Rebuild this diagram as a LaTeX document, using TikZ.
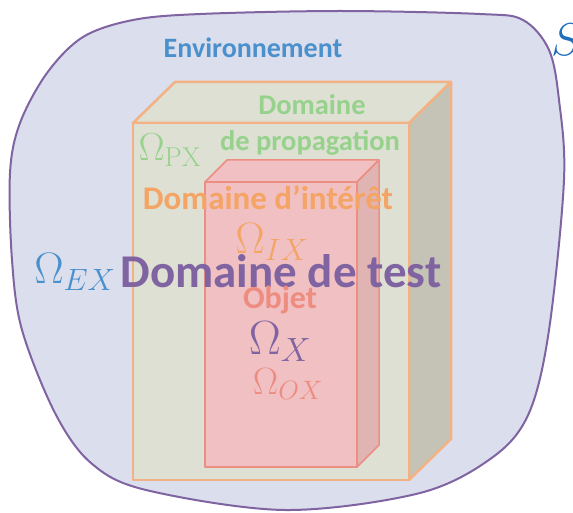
\documentclass[tikz,border=0pt]{standalone}
\usepackage{fix-cm}
\usepackage{fontspec}
\usepackage{tikz}
\usetikzlibrary{calc}
\newfontfamily\carlito{Carlito}
\definecolor{envfill}{RGB}{218,222,237}
\definecolor{envline}{RGB}{128,100,162}
\definecolor{boxfront}{RGB}{221,224,211}
\definecolor{boxside}{RGB}{196,195,182}
\definecolor{boxline}{RGB}{244,177,131}
\definecolor{objfront}{RGB}{240,192,194}
\definecolor{objside}{RGB}{225,180,180}
\definecolor{objline}{RGB}{236,142,130}
\definecolor{envblue}{RGB}{74,144,204}
\definecolor{propgreen}{RGB}{150,210,140}
\definecolor{intorange}{RGB}{244,164,100}
\definecolor{testpurple}{RGB}{128,100,162}
\definecolor{objsalmon}{RGB}{238,140,128}
\definecolor{setblue}{RGB}{30,110,190}
\tikzset{
    envshape/.style={fill=envfill, draw=envline, line width=2pt},
    boxface/.style={draw=boxline, line width=2.5pt, line join=round},
    objface/.style={draw=objline, line width=1.5pt, line join=round},
    word/.style={font=\carlito\bfseries\fontsize{#1}{#1}\selectfont, inner sep=0pt},
    sym/.style={font=\fontsize{#1}{#1}\selectfont, inner sep=0pt},
}

\begin{document}
\begin{tikzpicture}[x=1pt, y=-1pt]
\useasboundingbox (0,0) rectangle (573,513);

% Environment
\draw[envshape] plot[smooth cycle, tension=0.55] coordinates {
    (200,14) (133,20) (83,37) (47,73) (20,123) (10,173) (12,260) (22,330)
    (55,413) (91,463) (146,490) (285,510) (420,493) (493,457) (529,413)
    (549,330) (564,180) (559,100) (549,50) (523,20) (480,14) (340,11)};

% Propagation domain (box)
\coordinate (pf-tl) at (133,123);
\coordinate (pf-tr) at (409,123);
\coordinate (pf-br) at (409,480);
\coordinate (pb-tl) at ($(pf-tl)+(42,-41)$);
\coordinate (pb-tr) at ($(pf-tr)+(42,-41)$);
\coordinate (pb-br) at ($(pf-br)+(42,-41)$);
\draw[boxface, fill=boxfront] (pf-tl) -- (pb-tl) -- (pb-tr) -- (pf-tr) -- cycle;
\draw[boxface, fill=boxside] (pf-tr) -- (pb-tr) -- (pb-br) -- (pf-br) -- cycle;
\draw[boxface, fill=boxfront] (pf-tl) rectangle (pf-br);

% Object (box)
\coordinate (of-tl) at (205,182);
\coordinate (of-tr) at (357,182);
\coordinate (of-br) at (357,467);
\coordinate (ob-tl) at ($(of-tl)+(22,-22)$);
\coordinate (ob-tr) at ($(of-tr)+(22,-22)$);
\coordinate (ob-br) at ($(of-br)+(22,-22)$);
\draw[objface, fill=objfront] (of-tl) -- (ob-tl) -- (ob-tr) -- (of-tr) -- cycle;
\draw[objface, fill=objside] (of-tr) -- (ob-tr) -- (ob-br) -- (of-br) -- cycle;
\draw[objface, fill=objfront] (of-tl) rectangle (of-br);

% Labels
\node[word=28, text=envblue] (env-label) at (253,48) {Environnement};
\node[word=28.5, text=propgreen] (prop-label1) at (312,105) {Domaine};
\node[word=28.5, text=propgreen] (prop-label2) at (310,143) {de propagation};
\node[sym=39, text=propgreen] (omega-px) at (170,150) {$\Omega_{\mathrm{PX}}$};
\node[word=33, text=intorange] (int-label) at (268,198) {Domaine d’intérêt};
\node[sym=44, text=intorange] (omega-ix) at (272,242) {$\Omega_{IX}$};
\node[sym=44, text=envblue] (omega-ex) at (75,272) {$\Omega_{EX}$};
\node[word=47, text=testpurple] (test-label) at (281,271) {Domaine de test};
\node[word=32, text=objsalmon] (obj-label) at (280,300) {Objet};
\node[sym=48, text=testpurple] (omega-x) at (280,342) {$\Omega_{X}$};
\node[sym=38, text=objsalmon] (omega-ox) at (288,384) {$\Omega_{OX}$};
\node[sym=46, text=setblue, anchor=west] (set-label) at (551,40) {$S$};

\end{tikzpicture}
\end{document}
